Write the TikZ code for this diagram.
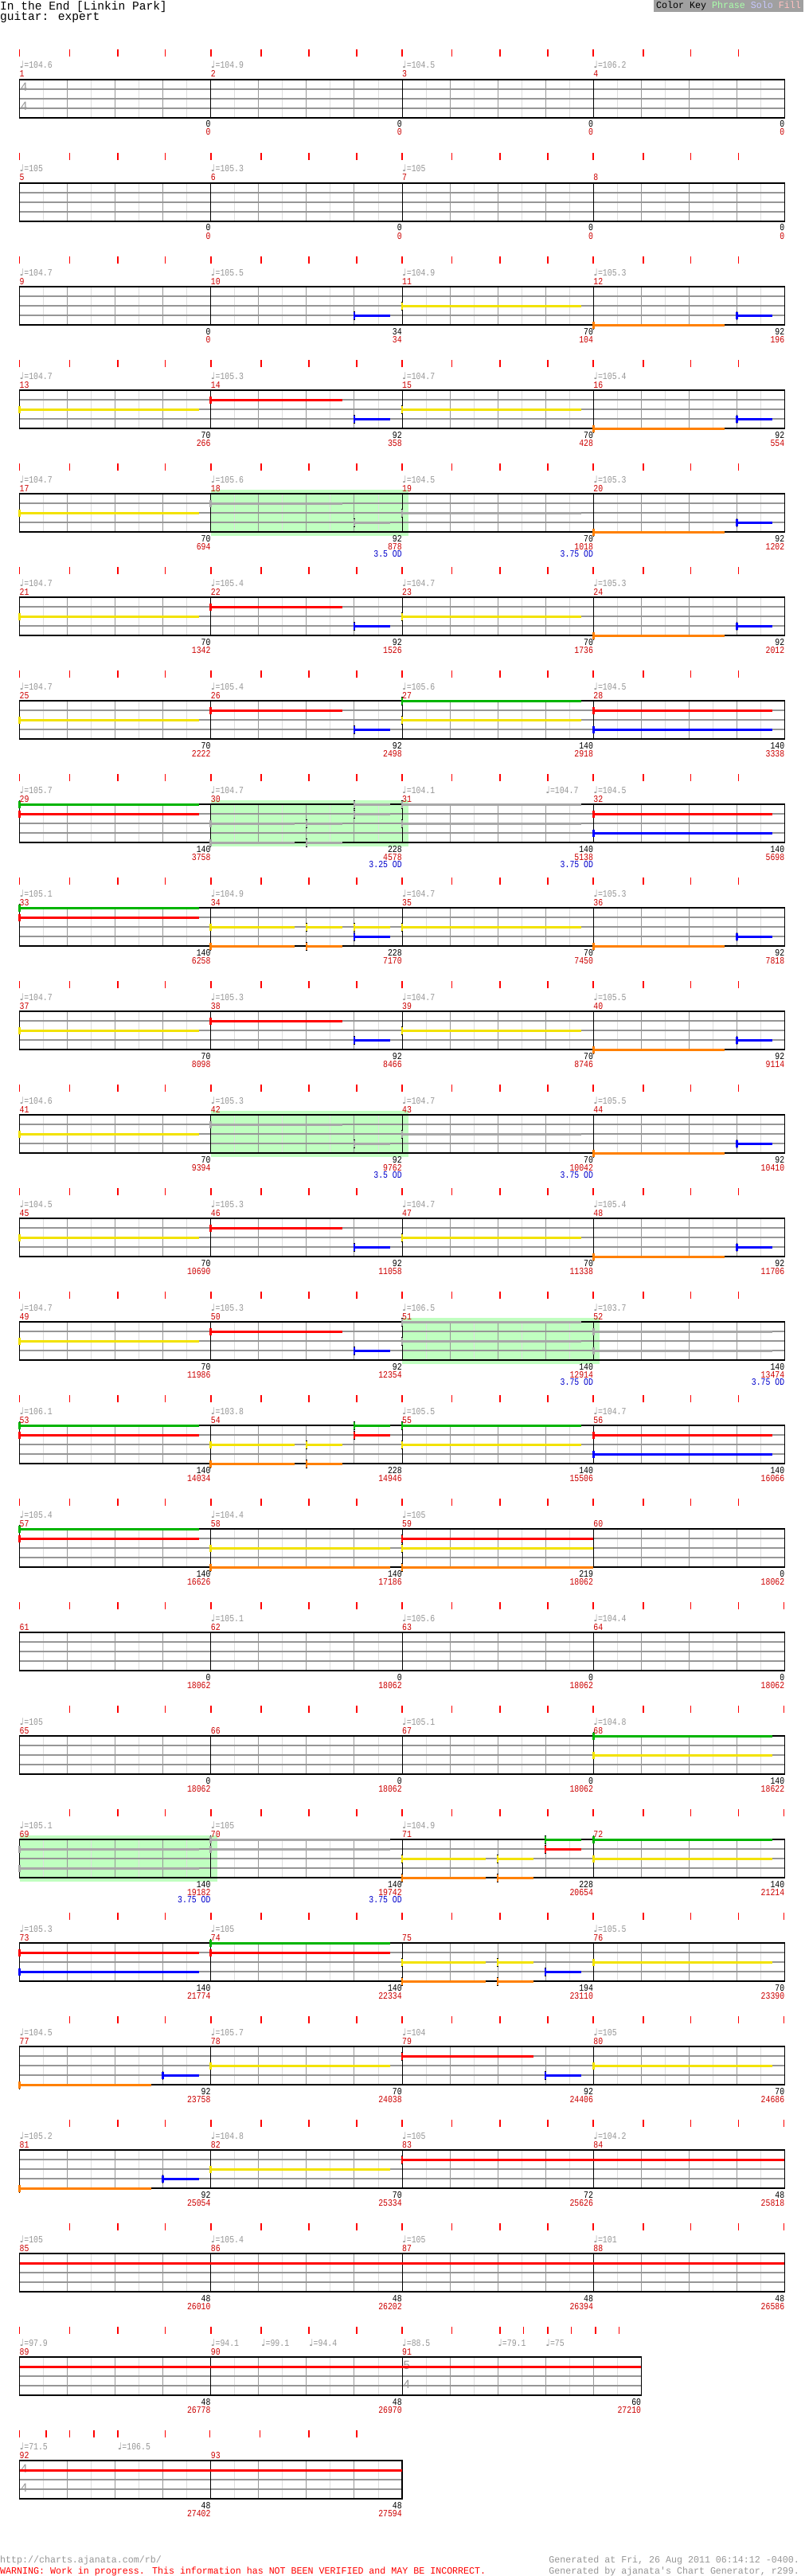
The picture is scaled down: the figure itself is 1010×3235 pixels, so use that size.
\documentclass[tikz,border=0pt]{standalone}
\usepackage{fontspec}
\newfontfamily\chartfont[FakeStretch=0.82]{Liberation Mono}
\newfontfamily\plainfont[FakeStretch=0.97]{Liberation Mono}
\newfontfamily\quarterfont{DejaVu Sans}
\newfontfamily\sigfont{Liberation Sans}
\usepackage{tikz}

\definecolor{tickred}{RGB}{255,0,0}
\definecolor{scorered}{RGB}{204,0,0}
\definecolor{labelgray}{RGB}{150,150,150}
\definecolor{gridgray}{RGB}{150,150,150}
\definecolor{faintgray}{RGB}{222,222,222}
\definecolor{odblue}{RGB}{0,0,204}
\definecolor{gemgreen}{RGB}{0,180,0}
\definecolor{gemred}{RGB}{255,0,0}
\definecolor{gemyellow}{RGB}{242,226,0}
\definecolor{gemblue}{RGB}{0,0,255}
\definecolor{gemorange}{RGB}{255,128,0}
\definecolor{spgray}{RGB}{168,168,168}
\definecolor{phrasegreen}{RGB}{192,255,192}
\definecolor{keygray}{RGB}{160,160,160}
\definecolor{keyphrase}{RGB}{170,255,170}
\definecolor{keysolo}{RGB}{200,200,255}
\definecolor{keyfill}{RGB}{255,192,192}

% staff geometry (px): left edge and width of one eighth
\newcommand{\xo}{24.5}
\newcommand{\ew}{30.03}

\newcommand{\staffgrid}[2]{%
  \pgfmathtruncatemacro{\nlast}{#1-1}%
  \foreach \i in {1,...,\nlast}{%
    \ifodd\i \draw[eighthline] ({\xo+\ew*\i},0) -- ++(0,48);
    \else \draw[beatline] ({\xo+\ew*\i},0) -- ++(0,48); \fi}
  \foreach \l in {1,2,3}
    \draw[laneline] (\xo,{12*\l}) -- ({\xo+\ew*#1},{12*\l});
  \foreach \m in {#2}
    \draw[barline] ({\xo+\ew*\m},0) -- ++(0,48);
  \draw[staffframe] (\xo,0) rectangle ({\xo+\ew*#1},48);}
\newcommand{\beatticks}[1]{\foreach \t in #1 \draw[beattick] (\t,-38) -- (\t,-29);}
\newcommand{\measurehead}[3]{%
  \node[barnum] (m#2) at ({\xo+\ew*#1},-3) {#2};
  \if\relax\detokenize{#3}\relax\else
    \node[tempolbl] (tempo#2) at ({\xo+\ew*#1},-14) {{\quarterfont ♩}=#3};
  \fi}
\newcommand{\tempo}[3]{\node[tempolbl] (#3) at ({\xo+\ew*#1},-14) {{\quarterfont ♩}=#2};}
\newcommand{\tally}[4]{%
  \node[countlbl] (cnt#4) at ({\xo+\ew*#1},60) {#2};
  \node[scorelbl] (score#4) at ({\xo+\ew*#1},70) {#3};}
\newcommand{\odlabel}[3]{\node[odlbl] (od#3) at ({\xo+\ew*#1},79) {#2};}
\newcommand{\timesig}[4]{%
  \node[sigdigit] (#4top) at ({\xo+\ew*#1+1.5},15) {#2};
  \node[sigdigit] (#4bot) at ({\xo+\ew*#1+1.5},39) {#3};}
\newcommand{\phrase}[2]{\fill[phrasefill] ({\xo+\ew*#1},-5) rectangle ({\xo+\ew*#2+8},53);}
% lane, start, end (eighths), colour
\newcommand{\gemnote}[4]{%
  \draw[sustain,draw=#4] ({\xo+\ew*#2},{12*#1}) -- ({\xo+\ew*#3},{12*#1});
  \draw[gemcap] ({\xo+\ew*#2},{12*#1-5.5}) -- ++(0,11);
  \draw[gemhead,draw=#4] ({\xo+\ew*#2},{12*#1-4.5}) -- ++(0,9);}
\newcommand{\gemtail}[4]{\draw[sustain,draw=#4] ({\xo+\ew*#2},{12*#1}) -- ({\xo+\ew*#3},{12*#1});}

\def\tickstd{24.5,87.6,148.1,207.4,264.7,327.9,387.8,447.7,505,567.5,628,688,745.2,807.7,867.6,927.5}
\def\tickend{87.6,148.1,207.4,264.7,327.9,387.8,447.7,505,567.5,628,688,745.2,807.7,867.6,927.5,984.5}

\begin{document}
\begin{tikzpicture}[
    x=1pt, y=-1pt,
    chartrow/.style={yshift=-#1pt},
    beattick/.style={draw=tickred, line width=1.6pt},
    eighthline/.style={draw=faintgray, line width=0.8pt},
    beatline/.style={draw=gridgray, line width=0.9pt},
    laneline/.style={draw=gridgray, line width=1.2pt},
    barline/.style={draw=black, line width=0.9pt},
    staffframe/.style={draw=black, line width=1.3pt},
    phrasefill/.style={fill=phrasegreen},
    sustain/.style={line width=3pt},
    gemcap/.style={draw=black, line width=1.4pt},
    gemhead/.style={line width=2.6pt},
    barnum/.style={anchor=base west, inner sep=0pt, text=scorered, font=\chartfont\fontsize{12}{12}\selectfont},
    tempolbl/.style={anchor=base west, inner sep=0pt, text=labelgray, font=\chartfont\fontsize{12}{12}\selectfont},
    countlbl/.style={anchor=base east, inner sep=0pt, text=black, font=\chartfont\fontsize{12}{12}\selectfont},
    scorelbl/.style={anchor=base east, inner sep=0pt, text=scorered, font=\chartfont\fontsize{12}{12}\selectfont},
    odlbl/.style={anchor=base east, inner sep=0pt, text=odblue, font=\chartfont\fontsize{12}{12}\selectfont},
    sigdigit/.style={anchor=base west, inner sep=0pt, text=labelgray, font=\sigfont\fontsize{15}{15}\selectfont},
    titletext/.style={anchor=base west, inner sep=0pt, font=\plainfont\fontsize{15}{15}\selectfont},
    foottext/.style={inner sep=0pt, font=\plainfont\fontsize{12}{12}\selectfont},
    keybox/.style={fill=keygray, anchor=north east, inner xsep=3pt, inner ysep=2pt, font=\plainfont\fontsize{12}{12}\selectfont}
]
    \fill[white] (0,0) rectangle (1010,3235);
    \useasboundingbox (0,0) rectangle (1010,3235);

    % header
    \node[titletext] (title) at (0,13) {In the End [Linkin Park]};
    \node[titletext] (part) at (0,26) {guitar: expert};
    \node[keybox] (colorkey) at (1009,0) {Color Key \textcolor{keyphrase}{Phrase} \textcolor{keysolo}{Solo} \textcolor{keyfill}{Fill}};

    % measures 1-4
    \begin{scope}[chartrow=100]
        \beatticks{\tickstd}
        \staffgrid{32}{8,16,24}
        \timesig{0}{4}{4}{sigA}
        \measurehead{0}{1}{104.6} \measurehead{8}{2}{104.9} \measurehead{16}{3}{104.5} \measurehead{24}{4}{106.2}
        \tally{8}{0}{0}{1} \tally{16}{0}{0}{2} \tally{24}{0}{0}{3} \tally{32}{0}{0}{4}
    \end{scope}

    % measures 5-8
    \begin{scope}[chartrow=230]
        \beatticks{\tickstd}
        \staffgrid{32}{8,16,24}
        \measurehead{0}{5}{105} \measurehead{8}{6}{105.3} \measurehead{16}{7}{105} \measurehead{24}{8}{}
        \tally{8}{0}{0}{5} \tally{16}{0}{0}{6} \tally{24}{0}{0}{7} \tally{32}{0}{0}{8}
    \end{scope}

    % measures 9-12
    \begin{scope}[chartrow=360]
        \beatticks{\tickstd}
        \staffgrid{32}{8,16,24}
        \gemnote{3}{14}{15.5}{gemblue} \gemnote{2}{16}{23.5}{gemyellow}
        \gemnote{4}{24}{29.5}{gemorange} \gemnote{3}{30}{31.5}{gemblue}
        \measurehead{0}{9}{104.7} \measurehead{8}{10}{105.5} \measurehead{16}{11}{104.9} \measurehead{24}{12}{105.3}
        \tally{8}{0}{0}{9} \tally{16}{34}{34}{10} \tally{24}{70}{104}{11} \tally{32}{92}{196}{12}
    \end{scope}

    % measures 13-16
    \begin{scope}[chartrow=490]
        \beatticks{\tickstd}
        \staffgrid{32}{8,16,24}
        \gemnote{2}{0}{7.5}{gemyellow} \gemnote{1}{8}{13.5}{gemred} \gemnote{3}{14}{15.5}{gemblue}
        \gemnote{2}{16}{23.5}{gemyellow} \gemnote{4}{24}{29.5}{gemorange} \gemnote{3}{30}{31.5}{gemblue}
        \measurehead{0}{13}{104.7} \measurehead{8}{14}{105.3} \measurehead{16}{15}{104.7} \measurehead{24}{16}{105.4}
        \tally{8}{70}{266}{13} \tally{16}{92}{358}{14} \tally{24}{70}{428}{15} \tally{32}{92}{554}{16}
    \end{scope}

    % measures 17-20
    \begin{scope}[chartrow=620]
        \beatticks{\tickstd}
        \phrase{8}{16}
        \staffgrid{32}{8,16,24}
        \gemnote{2}{0}{7.5}{gemyellow} \gemnote{1}{8}{13.5}{spgray} \gemnote{3}{14}{15.5}{spgray}
        \gemnote{2}{16}{23.5}{spgray} \gemnote{4}{24}{29.5}{gemorange} \gemnote{3}{30}{31.5}{gemblue}
        \measurehead{0}{17}{104.7} \measurehead{8}{18}{105.6} \measurehead{16}{19}{104.5} \measurehead{24}{20}{105.3}
        \tally{8}{70}{694}{17} \tally{16}{92}{878}{18} \tally{24}{70}{1018}{19} \tally{32}{92}{1202}{20}
        \odlabel{16}{3.5 OD}{18} \odlabel{24}{3.75 OD}{19}
    \end{scope}

    % measures 21-24
    \begin{scope}[chartrow=750]
        \beatticks{\tickstd}
        \staffgrid{32}{8,16,24}
        \gemnote{2}{0}{7.5}{gemyellow} \gemnote{1}{8}{13.5}{gemred} \gemnote{3}{14}{15.5}{gemblue}
        \gemnote{2}{16}{23.5}{gemyellow} \gemnote{4}{24}{29.5}{gemorange} \gemnote{3}{30}{31.5}{gemblue}
        \measurehead{0}{21}{104.7} \measurehead{8}{22}{105.4} \measurehead{16}{23}{104.7} \measurehead{24}{24}{105.3}
        \tally{8}{70}{1342}{21} \tally{16}{92}{1526}{22} \tally{24}{70}{1736}{23} \tally{32}{92}{2012}{24}
    \end{scope}

    % measures 25-28
    \begin{scope}[chartrow=880]
        \beatticks{\tickstd}
        \staffgrid{32}{8,16,24}
        \gemnote{2}{0}{7.5}{gemyellow} \gemnote{1}{8}{13.5}{gemred} \gemnote{3}{14}{15.5}{gemblue}
        \gemnote{0}{16}{23.5}{gemgreen} \gemnote{2}{16}{23.5}{gemyellow}
        \gemnote{1}{24}{31.5}{gemred} \gemnote{3}{24}{31.5}{gemblue}
        \measurehead{0}{25}{104.7} \measurehead{8}{26}{105.4} \measurehead{16}{27}{105.6} \measurehead{24}{28}{104.5}
        \tally{8}{70}{2222}{25} \tally{16}{92}{2498}{26} \tally{24}{140}{2918}{27} \tally{32}{140}{3338}{28}
    \end{scope}

    % measures 29-32
    \begin{scope}[chartrow=1010]
        \beatticks{\tickstd}
        \phrase{8}{16}
        \staffgrid{32}{8,16,24}
        \gemnote{0}{0}{7.5}{gemgreen} \gemnote{1}{0}{7.5}{gemred}
        \gemnote{2}{8}{11.5}{spgray} \gemnote{4}{8}{11.5}{spgray}
        \gemnote{2}{12}{13.5}{spgray} \gemnote{4}{12}{13.5}{spgray}
        \gemnote{0}{14}{15.5}{spgray} \gemnote{1}{14}{15.5}{spgray}
        \gemnote{0}{16}{23.5}{spgray} \gemnote{2}{16}{23.5}{spgray}
        \gemnote{1}{24}{31.5}{gemred} \gemnote{3}{24}{31.5}{gemblue}
        \measurehead{0}{29}{105.7} \measurehead{8}{30}{104.7} \measurehead{16}{31}{104.1} \measurehead{24}{32}{104.5}
        \tempo{22}{104.7}{tempo31b}
        \tally{8}{140}{3758}{29} \tally{16}{228}{4578}{30} \tally{24}{140}{5138}{31} \tally{32}{140}{5698}{32}
        \odlabel{16}{3.25 OD}{30} \odlabel{24}{3.75 OD}{31}
    \end{scope}

    % measures 33-36
    \begin{scope}[chartrow=1140]
        \beatticks{\tickstd}
        \staffgrid{32}{8,16,24}
        \gemnote{0}{0}{7.5}{gemgreen} \gemnote{1}{0}{7.5}{gemred}
        \gemnote{2}{8}{11.5}{gemyellow} \gemnote{4}{8}{11.5}{gemorange}
        \gemnote{2}{12}{13.5}{gemyellow} \gemnote{4}{12}{13.5}{gemorange}
        \gemnote{2}{14}{15.5}{gemyellow} \gemnote{3}{14}{15.5}{gemblue}
        \gemnote{2}{16}{23.5}{gemyellow} \gemnote{4}{24}{29.5}{gemorange} \gemnote{3}{30}{31.5}{gemblue}
        \measurehead{0}{33}{105.1} \measurehead{8}{34}{104.9} \measurehead{16}{35}{104.7} \measurehead{24}{36}{105.3}
        \tally{8}{140}{6258}{33} \tally{16}{228}{7170}{34} \tally{24}{70}{7450}{35} \tally{32}{92}{7818}{36}
    \end{scope}

    % measures 37-40
    \begin{scope}[chartrow=1270]
        \beatticks{\tickstd}
        \staffgrid{32}{8,16,24}
        \gemnote{2}{0}{7.5}{gemyellow} \gemnote{1}{8}{13.5}{gemred} \gemnote{3}{14}{15.5}{gemblue}
        \gemnote{2}{16}{23.5}{gemyellow} \gemnote{4}{24}{29.5}{gemorange} \gemnote{3}{30}{31.5}{gemblue}
        \measurehead{0}{37}{104.7} \measurehead{8}{38}{105.3} \measurehead{16}{39}{104.7} \measurehead{24}{40}{105.5}
        \tally{8}{70}{8098}{37} \tally{16}{92}{8466}{38} \tally{24}{70}{8746}{39} \tally{32}{92}{9114}{40}
    \end{scope}

    % measures 41-44
    \begin{scope}[chartrow=1400]
        \beatticks{\tickstd}
        \phrase{8}{16}
        \staffgrid{32}{8,16,24}
        \gemnote{2}{0}{7.5}{gemyellow} \gemnote{1}{8}{13.5}{spgray} \gemnote{3}{14}{15.5}{spgray}
        \gemnote{2}{16}{23.5}{spgray} \gemnote{4}{24}{29.5}{gemorange} \gemnote{3}{30}{31.5}{gemblue}
        \measurehead{0}{41}{104.6} \measurehead{8}{42}{105.3} \measurehead{16}{43}{104.7} \measurehead{24}{44}{105.5}
        \tally{8}{70}{9394}{41} \tally{16}{92}{9762}{42} \tally{24}{70}{10042}{43} \tally{32}{92}{10410}{44}
        \odlabel{16}{3.5 OD}{42} \odlabel{24}{3.75 OD}{43}
    \end{scope}

    % measures 45-48
    \begin{scope}[chartrow=1530]
        \beatticks{\tickstd}
        \staffgrid{32}{8,16,24}
        \gemnote{2}{0}{7.5}{gemyellow} \gemnote{1}{8}{13.5}{gemred} \gemnote{3}{14}{15.5}{gemblue}
        \gemnote{2}{16}{23.5}{gemyellow} \gemnote{4}{24}{29.5}{gemorange} \gemnote{3}{30}{31.5}{gemblue}
        \measurehead{0}{45}{104.5} \measurehead{8}{46}{105.3} \measurehead{16}{47}{104.7} \measurehead{24}{48}{105.4}
        \tally{8}{70}{10690}{45} \tally{16}{92}{11058}{46} \tally{24}{70}{11338}{47} \tally{32}{92}{11706}{48}
    \end{scope}

    % measures 49-52
    \begin{scope}[chartrow=1660]
        \beatticks{\tickstd}
        \phrase{16}{24}
        \staffgrid{32}{8,16,24}
        \gemnote{2}{0}{7.5}{gemyellow} \gemnote{1}{8}{13.5}{gemred} \gemnote{3}{14}{15.5}{gemblue}
        \gemnote{0}{16}{23.5}{spgray} \gemnote{2}{16}{23.5}{spgray}
        \gemnote{1}{24}{31.5}{spgray} \gemnote{3}{24}{31.5}{spgray}
        \measurehead{0}{49}{104.7} \measurehead{8}{50}{105.3} \measurehead{16}{51}{106.5} \measurehead{24}{52}{103.7}
        \tally{8}{70}{11986}{49} \tally{16}{92}{12354}{50} \tally{24}{140}{12914}{51} \tally{32}{140}{13474}{52}
        \odlabel{24}{3.75 OD}{51} \odlabel{32}{3.75 OD}{52}
    \end{scope}

    % measures 53-56
    \begin{scope}[chartrow=1790]
        \beatticks{\tickstd}
        \staffgrid{32}{8,16,24}
        \gemnote{0}{0}{7.5}{gemgreen} \gemnote{1}{0}{7.5}{gemred}
        \gemnote{2}{8}{11.5}{gemyellow} \gemnote{4}{8}{11.5}{gemorange}
        \gemnote{2}{12}{13.5}{gemyellow} \gemnote{4}{12}{13.5}{gemorange}
        \gemnote{0}{14}{15.5}{gemgreen} \gemnote{1}{14}{15.5}{gemred}
        \gemnote{0}{16}{23.5}{gemgreen} \gemnote{2}{16}{23.5}{gemyellow}
        \gemnote{1}{24}{31.5}{gemred} \gemnote{3}{24}{31.5}{gemblue}
        \measurehead{0}{53}{106.1} \measurehead{8}{54}{103.8} \measurehead{16}{55}{105.5} \measurehead{24}{56}{104.7}
        \tally{8}{140}{14034}{53} \tally{16}{228}{14946}{54} \tally{24}{140}{15506}{55} \tally{32}{140}{16066}{56}
    \end{scope}

    % measures 57-60
    \begin{scope}[chartrow=1920]
        \beatticks{\tickstd}
        \staffgrid{32}{8,16,24}
        \gemnote{0}{0}{7.5}{gemgreen} \gemnote{1}{0}{7.5}{gemred}
        \gemnote{2}{8}{15.5}{gemyellow} \gemnote{4}{8}{15.5}{gemorange}
        \gemnote{1}{16}{24}{gemred} \gemnote{2}{16}{24}{gemyellow} \gemnote{4}{16}{24}{gemorange}
        \measurehead{0}{57}{105.4} \measurehead{8}{58}{104.4} \measurehead{16}{59}{105} \measurehead{24}{60}{}
        \tally{8}{140}{16626}{57} \tally{16}{140}{17186}{58} \tally{24}{219}{18062}{59} \tally{32}{0}{18062}{60}
    \end{scope}

    % measures 61-64
    \begin{scope}[chartrow=2050]
        \beatticks{\tickstd} \beatticks{{984.5}}
        \staffgrid{32}{8,16,24}
        \measurehead{0}{61}{} \measurehead{8}{62}{105.1} \measurehead{16}{63}{105.6} \measurehead{24}{64}{104.4}
        \tally{8}{0}{18062}{61} \tally{16}{0}{18062}{62} \tally{24}{0}{18062}{63} \tally{32}{0}{18062}{64}
    \end{scope}

    % measures 65-68
    \begin{scope}[chartrow=2180]
        \beatticks{\tickend}
        \staffgrid{32}{8,16,24}
        \gemnote{0}{24}{31.5}{gemgreen} \gemnote{2}{24}{31.5}{gemyellow}
        \measurehead{0}{65}{105} \measurehead{8}{66}{} \measurehead{16}{67}{105.1} \measurehead{24}{68}{104.8}
        \tally{8}{0}{18062}{65} \tally{16}{0}{18062}{66} \tally{24}{0}{18062}{67} \tally{32}{140}{18622}{68}
    \end{scope}

    % measures 69-72
    \begin{scope}[chartrow=2310]
        \beatticks{\tickend}
        \phrase{0}{8}
        \staffgrid{32}{8,16,24}
        \gemnote{1}{0}{7.5}{spgray} \gemnote{3}{0}{7.5}{spgray}
        \gemnote{0}{8}{15.5}{spgray} \gemnote{1}{8}{15.5}{spgray}
        \gemnote{2}{16}{19.5}{gemyellow} \gemnote{4}{16}{19.5}{gemorange}
        \gemnote{2}{20}{21.5}{gemyellow} \gemnote{4}{20}{21.5}{gemorange}
        \gemnote{0}{22}{23.5}{gemgreen} \gemnote{1}{22}{23.5}{gemred}
        \gemnote{0}{24}{31.5}{gemgreen} \gemnote{2}{24}{31.5}{gemyellow}
        \measurehead{0}{69}{105.1} \measurehead{8}{70}{105} \measurehead{16}{71}{104.9} \measurehead{24}{72}{}
        \tally{8}{140}{19182}{69} \tally{16}{140}{19742}{70} \tally{24}{228}{20654}{71} \tally{32}{140}{21214}{72}
        \odlabel{8}{3.75 OD}{69} \odlabel{16}{3.75 OD}{70}
    \end{scope}

    % measures 73-76
    \begin{scope}[chartrow=2440]
        \beatticks{\tickend}
        \staffgrid{32}{8,16,24}
        \gemnote{1}{0}{7.5}{gemred} \gemnote{3}{0}{7.5}{gemblue}
        \gemnote{0}{8}{15.5}{gemgreen} \gemnote{1}{8}{15.5}{gemred}
        \gemnote{2}{16}{19.5}{gemyellow} \gemnote{4}{16}{19.5}{gemorange}
        \gemnote{2}{20}{21.5}{gemyellow} \gemnote{4}{20}{21.5}{gemorange}
        \gemnote{3}{22}{23.5}{gemblue} \gemnote{2}{24}{31.5}{gemyellow}
        \measurehead{0}{73}{105.3} \measurehead{8}{74}{105} \measurehead{16}{75}{} \measurehead{24}{76}{105.5}
        \tally{8}{140}{21774}{73} \tally{16}{140}{22334}{74} \tally{24}{194}{23110}{75} \tally{32}{70}{23390}{76}
    \end{scope}

    % measures 77-80
    \begin{scope}[chartrow=2570]
        \beatticks{\tickend}
        \staffgrid{32}{8,16,24}
        \gemnote{4}{0}{5.5}{gemorange} \gemnote{3}{6}{7.5}{gemblue} \gemnote{2}{8}{15.5}{gemyellow}
        \gemnote{1}{16}{21.5}{gemred} \gemnote{3}{22}{23.5}{gemblue} \gemnote{2}{24}{31.5}{gemyellow}
        \measurehead{0}{77}{104.5} \measurehead{8}{78}{105.7} \measurehead{16}{79}{104} \measurehead{24}{80}{105}
        \tally{8}{92}{23758}{77} \tally{16}{70}{24038}{78} \tally{24}{92}{24406}{79} \tally{32}{70}{24686}{80}
    \end{scope}

    % measures 81-84
    \begin{scope}[chartrow=2700]
        \beatticks{\tickend}
        \staffgrid{32}{8,16,24}
        \gemnote{4}{0}{5.5}{gemorange} \gemnote{3}{6}{7.5}{gemblue} \gemnote{2}{8}{15.5}{gemyellow}
        \gemnote{1}{16}{32}{gemred}
        \measurehead{0}{81}{105.2} \measurehead{8}{82}{104.8} \measurehead{16}{83}{105} \measurehead{24}{84}{104.2}
        \tally{8}{92}{25054}{81} \tally{16}{70}{25334}{82} \tally{24}{72}{25626}{83} \tally{32}{48}{25818}{84}
    \end{scope}

    % measures 85-88
    \begin{scope}[chartrow=2830]
        \beatticks{\tickend}
        \staffgrid{32}{8,16,24}
        \gemtail{1}{0}{32}{gemred}
        \measurehead{0}{85}{105} \measurehead{8}{86}{105.4} \measurehead{16}{87}{105} \measurehead{24}{88}{101}
        \tally{8}{48}{26010}{85} \tally{16}{48}{26202}{86} \tally{24}{48}{26394}{87} \tally{32}{48}{26586}{88}
    \end{scope}

    % measures 89-91 (91 in 5/4)
    \begin{scope}[chartrow=2960]
        \beatticks{{24.5,87.6,148.1,207.4,264.7,327.9,387.8,447.7,505,567.5,628,657.6,688,717.6,747.8,777.5}}
        \staffgrid{26}{8,16}
        \timesig{16}{5}{4}{sigB}
        \gemtail{1}{0}{26}{gemred}
        \measurehead{0}{89}{97.9} \measurehead{8}{90}{94.1} \measurehead{16}{91}{88.5}
        \tempo{10.1}{99.1}{tempo90b} \tempo{12.1}{94.4}{tempo90c}
        \tempo{20}{79.1}{tempo91b} \tempo{22}{75}{tempo91c}
        \tally{8}{48}{26778}{89} \tally{16}{48}{26970}{90} \tally{26}{60}{27210}{91}
    \end{scope}

    % measures 92-93
    \begin{scope}[chartrow=3090]
        \beatticks{{24.5,58,87.6,117.9,148.1,207.4,263.4,326.6,387.8,447.7}}
        \staffgrid{16}{8}
        \timesig{0}{4}{4}{sigC}
        \gemtail{1}{0}{16}{gemred}
        \measurehead{0}{92}{71.5} \measurehead{8}{93}{}
        \tempo{4.1}{106.5}{tempo92b}
        \tally{8}{48}{27402}{92} \tally{16}{48}{27594}{93}
    \end{scope}

    % footer
    \node[foottext, anchor=base west, text=labelgray] (url) at (0,3218) {http://charts.ajanata.com/rb/};
    \node[foottext, anchor=base west, text=tickred] (warning) at (0,3232) {WARNING: Work in progress. This information has NOT BEEN VERIFIED and MAY BE INCORRECT.};
    \node[foottext, anchor=base east, text=labelgray] (stamp) at (1004,3218) {Generated at Fri, 26 Aug 2011 06:14:12 -0400.};
    \node[foottext, anchor=base east, text=labelgray] (credit) at (1004,3232) {Generated by ajanata's Chart Generator, r299.};
\end{tikzpicture}
\end{document}
